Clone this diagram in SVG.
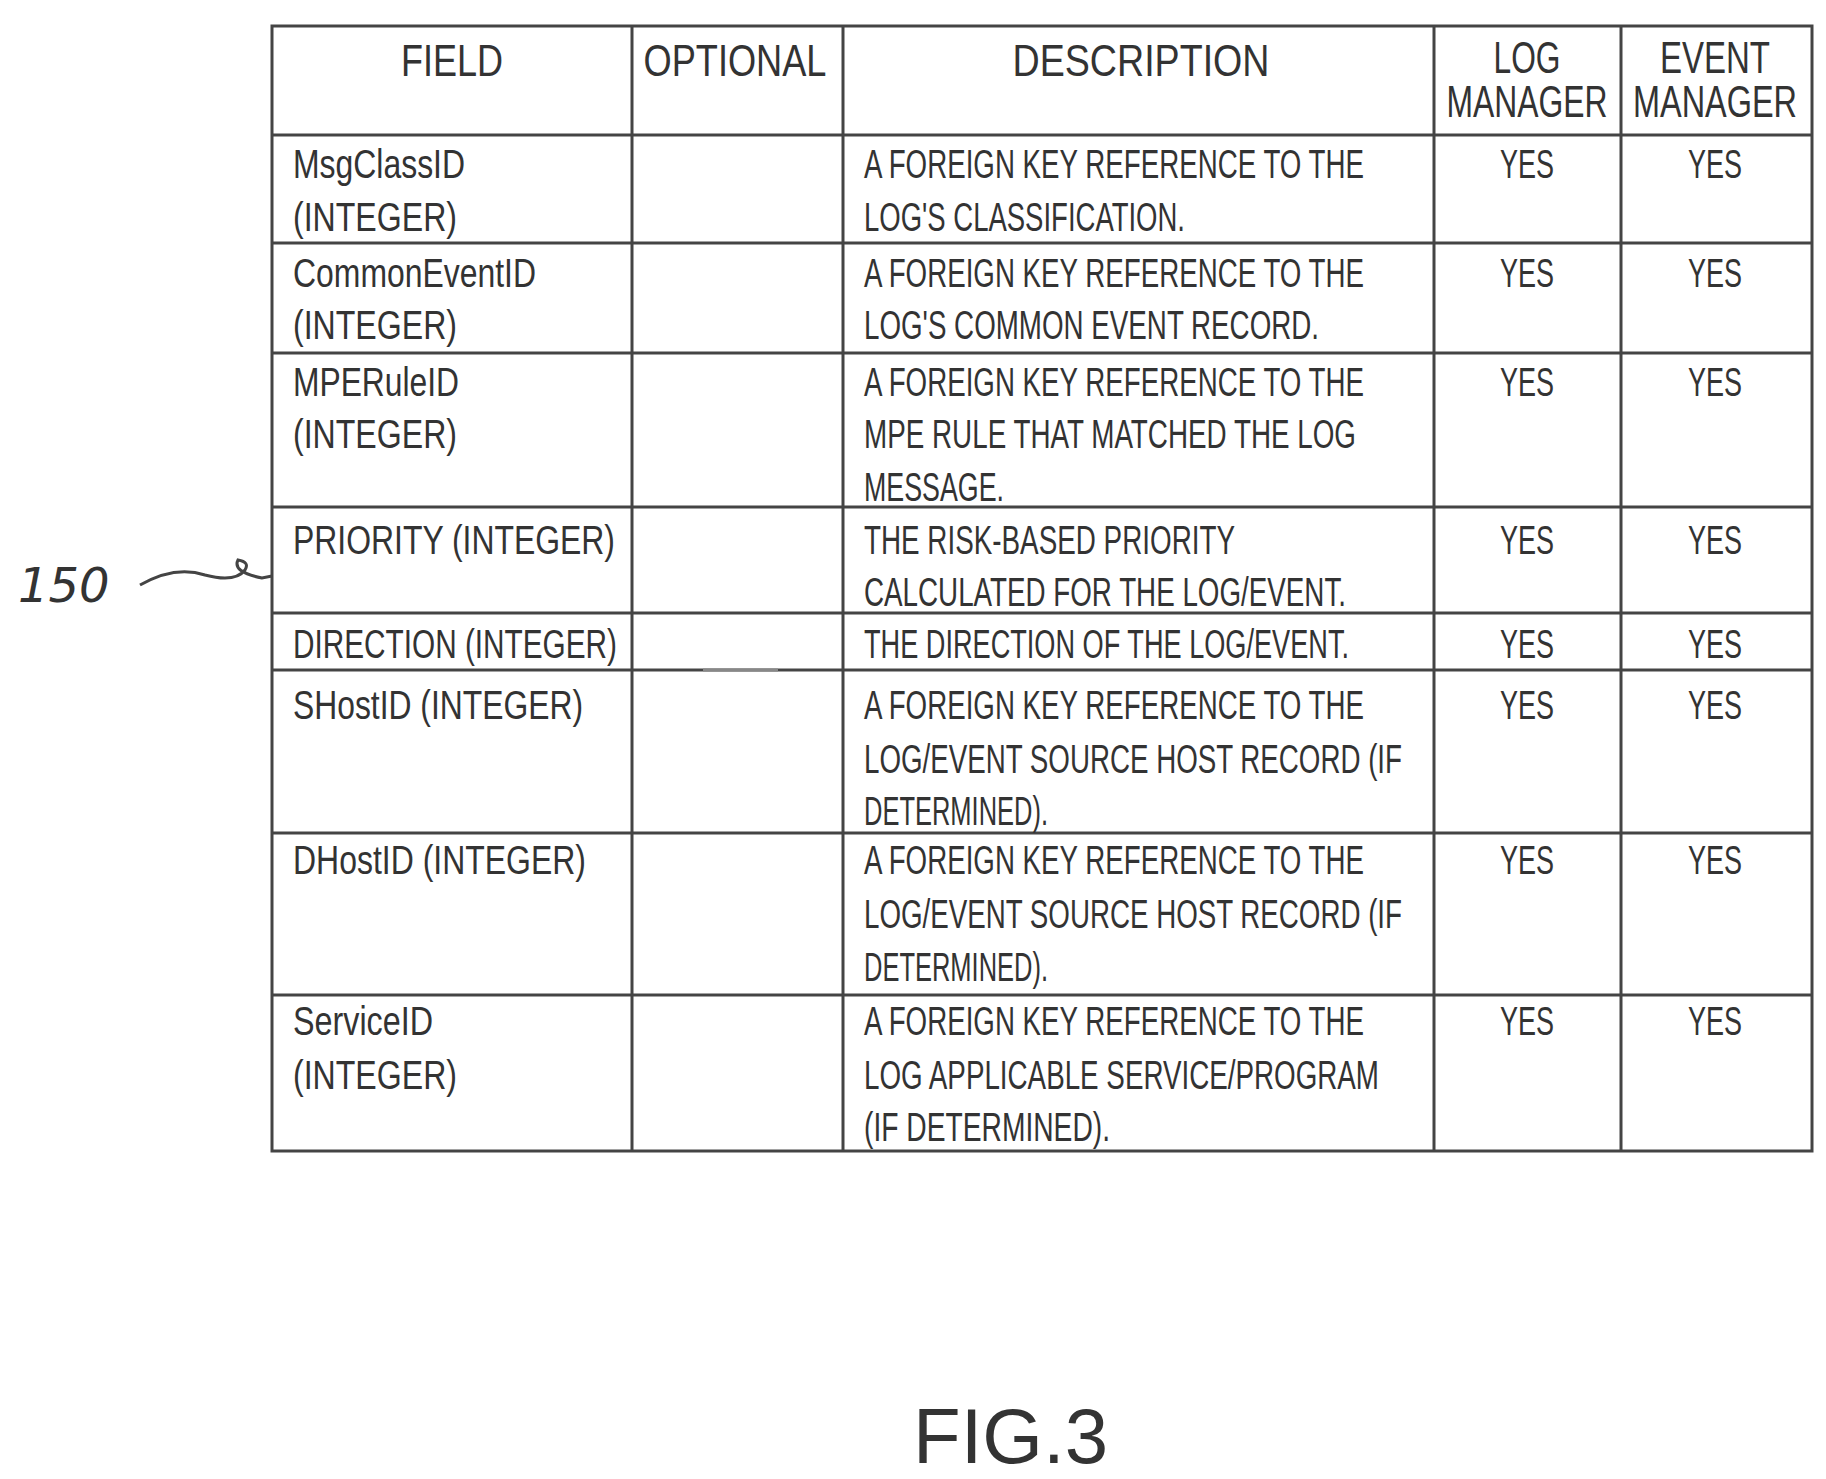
<svg xmlns="http://www.w3.org/2000/svg" width="1826" height="1479" viewBox="0 0 1826 1479">
<style>
text{font-family:"Liberation Sans",Arial,sans-serif;fill:#333;}
.b{font-size:40px;}
.h{font-size:44px;}
.c{text-anchor:middle;}
.g line,.g rect{stroke:#444;stroke-width:3;fill:none;}
</style>
<rect width="1826" height="1479" fill="#fff"/>
<g id="grid" class="g">
<rect x="272" y="26" width="1540" height="1125"/>
<line x1="632" y1="26" x2="632" y2="1151"/>
<line x1="843" y1="26" x2="843" y2="1151"/>
<line x1="1434" y1="26" x2="1434" y2="1151"/>
<line x1="1621" y1="26" x2="1621" y2="1151"/>
<line x1="272" y1="135" x2="1812" y2="135"/>
<line x1="272" y1="243" x2="1812" y2="243"/>
<line x1="272" y1="353" x2="1812" y2="353"/>
<line x1="272" y1="507" x2="1812" y2="507"/>
<line x1="272" y1="613" x2="1812" y2="613"/>
<line x1="272" y1="670" x2="1812" y2="670"/>
<line x1="272" y1="833" x2="1812" y2="833"/>
<line x1="272" y1="995" x2="1812" y2="995"/>
</g>
<g id="header" class="h">
<text class="h c" x="452" y="76" textLength="102" lengthAdjust="spacingAndGlyphs">FIELD</text>
<text class="h c" x="735" y="76" textLength="183" lengthAdjust="spacingAndGlyphs">OPTIONAL</text>
<text class="h c" x="1141" y="76" textLength="257" lengthAdjust="spacingAndGlyphs">DESCRIPTION</text>
<text class="h c" x="1527" y="73" textLength="67" lengthAdjust="spacingAndGlyphs">LOG</text>
<text class="h c" x="1527" y="117" textLength="161" lengthAdjust="spacingAndGlyphs">MANAGER</text>
<text class="h c" x="1715" y="73" textLength="110" lengthAdjust="spacingAndGlyphs">EVENT</text>
<text class="h c" x="1715" y="117" textLength="164" lengthAdjust="spacingAndGlyphs">MANAGER</text>
</g>
<g id="row1">
<text class="b" x="293" y="178" textLength="172" lengthAdjust="spacingAndGlyphs">MsgClassID</text>
<text class="b" x="293" y="231" textLength="164" lengthAdjust="spacingAndGlyphs">(INTEGER)</text>
<text class="b" x="864" y="178" textLength="500" lengthAdjust="spacingAndGlyphs">A FOREIGN KEY REFERENCE TO THE</text>
<text class="b" x="864" y="231" textLength="321" lengthAdjust="spacingAndGlyphs">LOG'S CLASSIFICATION.</text>
<text class="b c" x="1527" y="178" textLength="54" lengthAdjust="spacingAndGlyphs">YES</text>
<text class="b c" x="1715" y="178" textLength="54" lengthAdjust="spacingAndGlyphs">YES</text>
</g>
<g id="row2">
<text class="b" x="293" y="287" textLength="243" lengthAdjust="spacingAndGlyphs">CommonEventID</text>
<text class="b" x="293" y="339" textLength="164" lengthAdjust="spacingAndGlyphs">(INTEGER)</text>
<text class="b" x="864" y="287" textLength="500" lengthAdjust="spacingAndGlyphs">A FOREIGN KEY REFERENCE TO THE</text>
<text class="b" x="864" y="339" textLength="455" lengthAdjust="spacingAndGlyphs">LOG'S COMMON EVENT RECORD.</text>
<text class="b c" x="1527" y="287" textLength="54" lengthAdjust="spacingAndGlyphs">YES</text>
<text class="b c" x="1715" y="287" textLength="54" lengthAdjust="spacingAndGlyphs">YES</text>
</g>
<g id="row3">
<text class="b" x="293" y="396" textLength="166" lengthAdjust="spacingAndGlyphs">MPERuleID</text>
<text class="b" x="293" y="448" textLength="164" lengthAdjust="spacingAndGlyphs">(INTEGER)</text>
<text class="b" x="864" y="396" textLength="500" lengthAdjust="spacingAndGlyphs">A FOREIGN KEY REFERENCE TO THE</text>
<text class="b" x="864" y="448" textLength="492" lengthAdjust="spacingAndGlyphs">MPE RULE THAT MATCHED THE LOG</text>
<text class="b" x="864" y="501" textLength="140" lengthAdjust="spacingAndGlyphs">MESSAGE.</text>
<text class="b c" x="1527" y="396" textLength="54" lengthAdjust="spacingAndGlyphs">YES</text>
<text class="b c" x="1715" y="396" textLength="54" lengthAdjust="spacingAndGlyphs">YES</text>
</g>
<g id="row4">
<text class="b" x="293" y="554" textLength="322" lengthAdjust="spacingAndGlyphs">PRIORITY (INTEGER)</text>
<text class="b" x="864" y="554" textLength="371" lengthAdjust="spacingAndGlyphs">THE RISK-BASED PRIORITY</text>
<text class="b" x="864" y="606" textLength="482" lengthAdjust="spacingAndGlyphs">CALCULATED FOR THE LOG/EVENT.</text>
<text class="b c" x="1527" y="554" textLength="54" lengthAdjust="spacingAndGlyphs">YES</text>
<text class="b c" x="1715" y="554" textLength="54" lengthAdjust="spacingAndGlyphs">YES</text>
</g>
<g id="row5">
<text class="b" x="293" y="658" textLength="324" lengthAdjust="spacingAndGlyphs">DIRECTION (INTEGER)</text>
<text class="b" x="864" y="658" textLength="485" lengthAdjust="spacingAndGlyphs">THE DIRECTION OF THE LOG/EVENT.</text>
<text class="b c" x="1527" y="658" textLength="54" lengthAdjust="spacingAndGlyphs">YES</text>
<text class="b c" x="1715" y="658" textLength="54" lengthAdjust="spacingAndGlyphs">YES</text>
<line x1="703" y1="670" x2="778" y2="670" stroke="#888" stroke-width="3"/>
</g>
<g id="row6">
<text class="b" x="293" y="719" textLength="290" lengthAdjust="spacingAndGlyphs">SHostID (INTEGER)</text>
<text class="b" x="864" y="719" textLength="500" lengthAdjust="spacingAndGlyphs">A FOREIGN KEY REFERENCE TO THE</text>
<text class="b" x="864" y="773" textLength="538" lengthAdjust="spacingAndGlyphs">LOG/EVENT SOURCE HOST RECORD (IF</text>
<text class="b" x="864" y="825" textLength="184" lengthAdjust="spacingAndGlyphs">DETERMINED).</text>
<text class="b c" x="1527" y="719" textLength="54" lengthAdjust="spacingAndGlyphs">YES</text>
<text class="b c" x="1715" y="719" textLength="54" lengthAdjust="spacingAndGlyphs">YES</text>
</g>
<g id="row7">
<text class="b" x="293" y="874" textLength="293" lengthAdjust="spacingAndGlyphs">DHostID (INTEGER)</text>
<text class="b" x="864" y="874" textLength="500" lengthAdjust="spacingAndGlyphs">A FOREIGN KEY REFERENCE TO THE</text>
<text class="b" x="864" y="928" textLength="538" lengthAdjust="spacingAndGlyphs">LOG/EVENT SOURCE HOST RECORD (IF</text>
<text class="b" x="864" y="981" textLength="184" lengthAdjust="spacingAndGlyphs">DETERMINED).</text>
<text class="b c" x="1527" y="874" textLength="54" lengthAdjust="spacingAndGlyphs">YES</text>
<text class="b c" x="1715" y="874" textLength="54" lengthAdjust="spacingAndGlyphs">YES</text>
</g>
<g id="row8">
<text class="b" x="293" y="1035" textLength="140" lengthAdjust="spacingAndGlyphs">ServiceID</text>
<text class="b" x="293" y="1089" textLength="164" lengthAdjust="spacingAndGlyphs">(INTEGER)</text>
<text class="b" x="864" y="1035" textLength="500" lengthAdjust="spacingAndGlyphs">A FOREIGN KEY REFERENCE TO THE</text>
<text class="b" x="864" y="1089" textLength="515" lengthAdjust="spacingAndGlyphs">LOG APPLICABLE SERVICE/PROGRAM</text>
<text class="b" x="864" y="1141" textLength="246" lengthAdjust="spacingAndGlyphs">(IF DETERMINED).</text>
<text class="b c" x="1527" y="1035" textLength="54" lengthAdjust="spacingAndGlyphs">YES</text>
<text class="b c" x="1715" y="1035" textLength="54" lengthAdjust="spacingAndGlyphs">YES</text>
</g>
<g id="connectors">
<path d="M140 585 Q175 565 205 575 Q235 583 245 570 Q250 562 238 560 Q232 572 262 578 L272 576" fill="none" stroke="#444" stroke-width="3"/>
</g>
<g id="label150">
<text x="18" y="602" style="font-family:'DejaVu Sans',sans-serif;font-size:48px;font-style:italic" fill="#444">150</text>
</g>
<g id="caption">
<text x="913" y="1463" style="font-size:78px" fill="#555">FIG.3</text>
</g>
</svg>
